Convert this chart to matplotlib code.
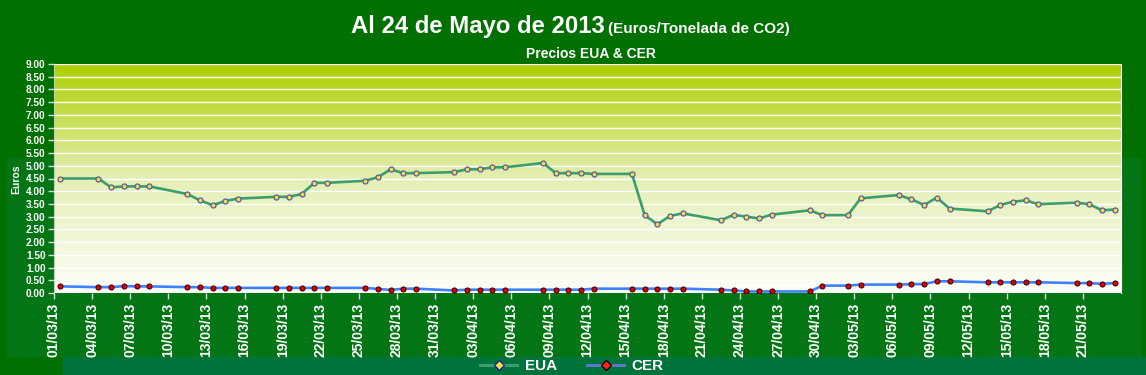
import numpy as np
import pandas as pd
import matplotlib
matplotlib.use("Agg")
import matplotlib.pyplot as plt
import matplotlib.dates as mdates
from matplotlib.colors import LinearSegmentedColormap
from matplotlib.lines import Line2D
from matplotlib.patches import Rectangle

# trading days shown on the chart
fechas = [
    "01/03/13", "04/03/13", "05/03/13", "06/03/13", "07/03/13", "08/03/13",
    "11/03/13", "12/03/13", "13/03/13", "14/03/13", "15/03/13",
    "18/03/13", "19/03/13", "20/03/13", "21/03/13", "22/03/13",
    "25/03/13", "26/03/13", "27/03/13", "28/03/13", "29/03/13",
    "01/04/13", "02/04/13", "03/04/13", "04/04/13", "05/04/13",
    "08/04/13", "09/04/13", "10/04/13", "11/04/13", "12/04/13",
    "15/04/13", "16/04/13", "17/04/13", "18/04/13", "19/04/13",
    "22/04/13", "23/04/13", "24/04/13", "25/04/13", "26/04/13",
    "29/04/13", "30/04/13", "02/05/13", "03/05/13",
    "06/05/13", "07/05/13", "08/05/13", "09/05/13", "10/05/13",
    "13/05/13", "14/05/13", "15/05/13", "16/05/13", "17/05/13",
    "20/05/13", "21/05/13", "22/05/13", "23/05/13",
]

eua = [
    4.50, 4.50, 4.15, 4.19, 4.19, 4.19,
    3.89, 3.64, 3.45, 3.62, 3.71,
    3.78, 3.78, 3.89, 4.33, 4.33,
    4.41, 4.55, 4.86, 4.71, 4.71,
    4.75, 4.86, 4.86, 4.94, 4.94,
    5.11, 4.71, 4.71, 4.71, 4.68,
    4.68, 3.06, 2.70, 3.03, 3.13,
    2.86, 3.07, 3.00, 2.93, 3.08,
    3.25, 3.06, 3.06, 3.72,
    3.85, 3.68, 3.46, 3.75, 3.32,
    3.21, 3.46, 3.59, 3.64, 3.49,
    3.55, 3.49, 3.25, 3.28,
]

cer = [
    0.26, 0.23, 0.23, 0.27, 0.26, 0.26,
    0.23, 0.23, 0.20, 0.20, 0.20,
    0.20, 0.20, 0.20, 0.20, 0.20,
    0.20, 0.16, 0.12, 0.17, 0.17,
    0.10, 0.13, 0.13, 0.13, 0.13,
    0.13, 0.13, 0.13, 0.13, 0.17,
    0.17, 0.17, 0.17, 0.17, 0.17,
    0.13, 0.10, 0.06, 0.06, 0.06,
    0.06, 0.29, 0.29, 0.33,
    0.33, 0.35, 0.35, 0.46, 0.46,
    0.42, 0.42, 0.42, 0.42, 0.42,
    0.39, 0.39, 0.36, 0.39,
]

titulo = "Al 24 de Mayo de 2013"
unidades = "(Euros/Tonelada de CO2)"
subtitulo = "Precios EUA & CER"

verde = "#007000"
plt.rcParams['font.family'] = ['Liberation Sans', 'DejaVu Sans']
narrow = ['DejaVu Sans Condensed', 'Liberation Sans']

fig = plt.figure(figsize=(11.46, 3.75), dpi=100, facecolor=verde)
W, H = 1146.0, 375.0

# background panels
fig.add_artist(Rectangle((7 / W, 1 - 356 / H), 1133 / W, 198 / H,
                         transform=fig.transFigure, color="#037514", zorder=0))
fig.add_artist(Rectangle((63 / W, 0), 1 - 63 / W, 18 / H,
                         transform=fig.transFigure, color="#00733a", zorder=0))

ax = fig.add_axes([54 / W, 1 - 293 / H, 1067 / W, 229 / H])
ax.set_facecolor("white")

# vertical gradient in the plot area
cmap = LinearSegmentedColormap.from_list("g", ["#fdfef8", "#e4efb4", "#acd000"])
grad = np.linspace(0, 1, 256).reshape(-1, 1)
ax.imshow(grad, extent=[0, 1, 0, 1], transform=ax.transAxes, aspect='auto',
          cmap=cmap, origin='lower', zorder=0)

x = pd.to_datetime(fechas, format="%d/%m/%y") + pd.Timedelta(hours=12)

ax.plot(x, eua, color="#3a9f6c", lw=1.9, marker='o', ms=3.6,
        mfc="#eee040", mec="#5a5aa8", mew=0.9, zorder=3)
ax.plot(x, cer, color="#3c82ff", lw=1.9, marker='o', ms=3.6,
        mfc="#e00000", mec="#500000", mew=0.8, zorder=3)

ax.set_ylim(0, 9)
ax.set_yticks(np.arange(0, 9.01, 0.5))
ax.set_yticklabels([f"{v:.2f}" for v in np.arange(0, 9.01, 0.5)])
ax.grid(axis='y', color='white', lw=1)
ax.set_axisbelow(False)

ax.set_xlim(pd.Timestamp("2013-03-01"), pd.Timestamp("2013-05-24"))
ticks = pd.date_range("2013-03-01", "2013-05-22", freq="3D")
ax.set_xticks(ticks)
ax.xaxis.set_major_formatter(mdates.DateFormatter("%d/%m/%y"))

for lab in ax.get_xticklabels():
    lab.set_rotation(90)
    lab.set_fontsize(10)
    lab.set_fontweight('bold')
    lab.set_color('white')
for lab in ax.get_yticklabels():
    lab.set_fontsize(7.3)
    lab.set_fontweight('bold')
    lab.set_color('white')

ax.tick_params(axis='both', colors='#d8d8d8', length=4, width=1)
ax.tick_params(axis='x', labelcolor='white', pad=3)
ax.tick_params(axis='y', labelcolor='white', pad=2)
ax.spines['top'].set_visible(False)
ax.spines['bottom'].set_visible(False)
ax.spines['left'].set_color('#c8c8c8')
ax.spines['right'].set_color('white')

fig.text(16 / W, 1 - 179 / H, "Euros", rotation=90, color='white',
         fontsize=7.5, fontweight='bold', family=narrow, ha='center', va='center')

# title
fig.text(605 / W, 1 - 33 / H, titulo, color='white', fontsize=17.2,
         fontweight='bold', ha='right', va='baseline')
fig.text(608 / W, 1 - 33 / H, unidades, color='white', fontsize=11,
         fontweight='bold', family=narrow, ha='left', va='baseline')
fig.text(591 / W, 1 - 58 / H, subtitulo, color='white', fontsize=10,
         fontweight='bold', family=narrow, ha='center', va='baseline')

handles = [
    Line2D([], [], color="#3a9f6c", lw=2.2, marker='D', ms=5,
           mfc="#eee040", mec="#2020a0", mew=1.0),
    Line2D([], [], color="#5a78c8", lw=2.2, marker='D', ms=5,
           mfc="#ff2020", mec="#200000", mew=1.0),
]
leg = fig.legend(handles, ["EUA", "CER"], loc='center', ncol=2,
                 bbox_to_anchor=(572 / W, 1 - 366 / H), frameon=False,
                 handlelength=2.4, handletextpad=0.5, columnspacing=2.0,
                 prop={'family': narrow, 'weight': 'bold', 'size': 11})
for txt in leg.get_texts():
    txt.set_color('white')

fig.savefig("out.png", dpi=100, facecolor=verde)
